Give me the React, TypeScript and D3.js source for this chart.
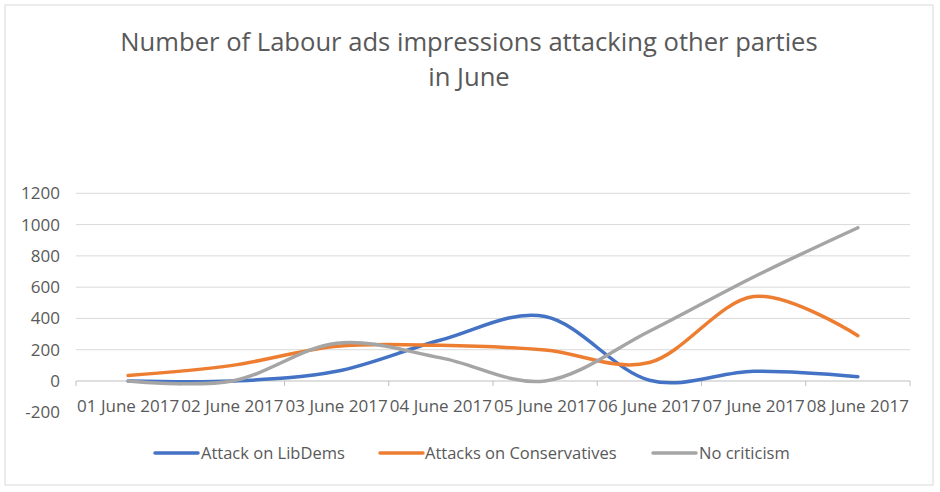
import React from "react";
import * as d3 from "d3";

const categories = [
  "01 June 2017",
  "02 June 2017",
  "03 June 2017",
  "04 June 2017",
  "05 June 2017",
  "06 June 2017",
  "07 June 2017",
  "08 June 2017",
];
const attackLibDems = [0, 0, 62, 262, 412, 5, 62, 28];
const attacksConservatives = [35, 100, 222, 228, 198, 118, 540, 290];
const noCriticism = [0, 0, 242, 148, 0, 318, 665, 980];
const yTicks = [-200, 0, 200, 400, 600, 800, 1000, 1200];
const seriesNames = ["Attack on LibDems", "Attacks on Conservatives", "No criticism"];
const seriesColors = ["#4472C4", "#ED7D31", "#A5A5A5"];
const titleLines = ["Number of Labour ads impressions attacking other parties", "in June"];

const W = 940;
const H = 492;
const FONT = "'Open Sans', 'DejaVu Sans', sans-serif";
const TEXT = "#595959";

export default function App() {
  const x = d3.scaleBand<string>().domain(categories).range([76, 910]).padding(0);
  const y = d3.scaleLinear().domain([-200, 1200]).range([412.3, 193.3]);
  const cx = (c: string) => (x(c) as number) + x.bandwidth() / 2;
  const line = d3
    .line<number>()
    .x((_, i) => cx(categories[i]))
    .y((d) => y(d))
    .curve(d3.curveCardinal.tension(0));
  const series = [attackLibDems, attacksConservatives, noCriticism];
  const boundaries = [...categories.map((c) => x(c) as number), 910];

  const legendItems = [
    { sx: 155, tx: 201 },
    { sx: 380, tx: 425 },
    { sx: 653, tx: 699 },
  ];

  return (
    <svg
      width={W}
      height={H}
      style={{ position: "absolute", left: 0, top: 0, background: "#fff" }}
      fontFamily={FONT}
    >
      <rect x={0} y={0} width={W} height={H} fill="#fff" />
      <rect x={5} y={5} width={928} height={480} fill="#fff" stroke="#d9d9d9" strokeWidth={1} />
      {titleLines.map((t, i) => (
        <text
          key={i}
          x={469}
          y={51 + i * 35}
          textAnchor="middle"
          fontSize={25.6}
          fontWeight={400}
          fill={TEXT}
        >
          {t}
        </text>
      ))}
      {yTicks
        .filter((v) => v > 0)
        .map((v) => (
          <line key={v} x1={76} x2={910} y1={y(v)} y2={y(v)} stroke="#d9d9d9" strokeWidth={1} />
        ))}
      <line x1={76} x2={910} y1={y(0)} y2={y(0)} stroke="#bfbfbf" strokeWidth={1} />
      {boundaries.map((b, i) => (
        <line key={i} x1={b} x2={b} y1={y(0)} y2={y(0) + 5} stroke="#bfbfbf" strokeWidth={1} />
      ))}
      {yTicks.map((v) => (
        <text key={v} x={60} y={y(v) + 6} textAnchor="end" fontSize={17} fill={TEXT}>
          {v}
        </text>
      ))}
      {categories.map((c) => (
        <text key={c} x={cx(c)} y={412} textAnchor="middle" fontSize={17} fill={TEXT}>
          {c}
        </text>
      ))}
      {series.map((s, i) => (
        <path
          key={i}
          d={line(s) as string}
          fill="none"
          stroke={seriesColors[i]}
          strokeWidth={3.5}
          strokeLinecap="round"
          strokeLinejoin="round"
        />
      ))}
      {seriesNames.map((n, i) => (
        <g key={n}>
          <line
            x1={legendItems[i].sx}
            x2={legendItems[i].sx + 43}
            y1={453}
            y2={453}
            stroke={seriesColors[i]}
            strokeWidth={3.5}
            strokeLinecap="round"
          />
          <text x={legendItems[i].tx} y={458.5} fontSize={16.5} fill={TEXT}>
            {n}
          </text>
        </g>
      ))}
    </svg>
  );
}
